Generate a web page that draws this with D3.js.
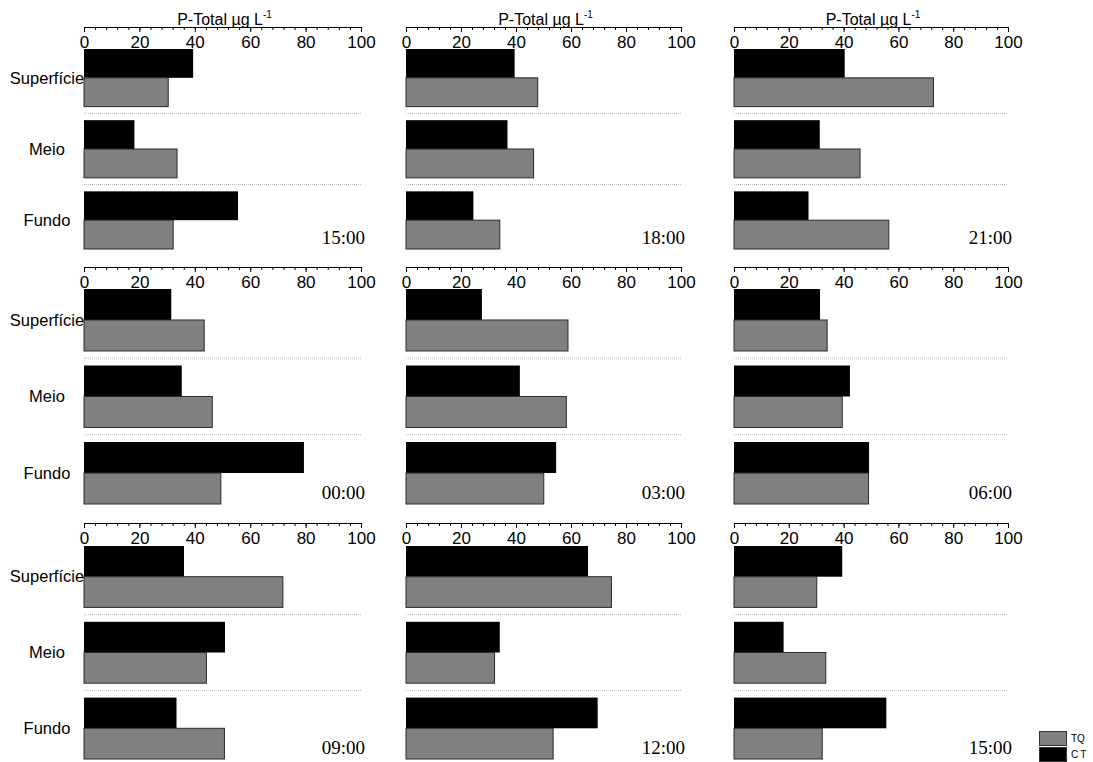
<!DOCTYPE html>
<html>
<head>
<meta charset="utf-8">
<script src="https://cdn.jsdelivr.net/npm/d3@7"></script>
<style>
  body { margin: 0; background: #fff; }
  svg { display: block; font-family: Arial, "Liberation Sans", sans-serif; }
</style>
</head>
<body>
<div id="chart"></div>
<script>
// data (P-Total, µg L-1)
var times = ["15:00", "18:00", "21:00", "00:00", "03:00", "06:00", "09:00", "12:00", "15:00"];
var depths = ["Superfície", "Meio", "Fundo"];
var series = ["TQ", "CT"];
var ctValues = [
  [39.4, 18.2, 55.6], [39.5, 36.9, 24.5], [40.4, 31.3, 27.2],
  [31.5, 35.3, 79.4], [27.6, 41.4, 54.6], [31.4, 42.3, 49.3],
  [36.1, 50.9, 33.4], [66.2, 34.1, 69.7], [39.5, 18.1, 55.6]
];
var tqValues = [
  [30.4, 33.6, 32.2], [47.9, 46.4, 34.1], [72.8, 46.0, 56.5],
  [43.4, 46.3, 49.4], [58.9, 58.3, 50.1], [34.0, 39.5, 49.1],
  [71.8, 44.2, 50.7], [74.7, 32.2, 53.5], [30.2, 33.5, 32.2]
];
var tickValues = [0, 20, 40, 60, 80, 100];

var width = 1093, height = 762;
// panel layout
var cols = [[84, 361], [406, 681], [734, 1008]];
var rows = [
  {axis: 27, top: 49, bottom: 249},
  {axis: 267, top: 289, bottom: 504},
  {axis: 523, top: 546, bottom: 759}
];
var colors = {TQ: "#808080", CT: "#000000"};
var sans = "Arial, 'Liberation Sans', sans-serif";
var serif = "'Liberation Serif', 'Times New Roman', serif";

var svg = d3.select("#chart").append("svg")
  .attr("width", width)
  .attr("height", height);

times.forEach(function(t, i) {
  var c = cols[i % 3], r = rows[Math.floor(i / 3)];

  var x = d3.scaleLinear().domain([0, 100]).range(c);
  var y = d3.scaleBand().domain(depths).range([r.top, r.bottom])
    .paddingInner(0.19).paddingOuter(0);
  var half = y.bandwidth() / 2;

  var g = svg.append("g");

  // dotted separators between depth groups
  depths.slice(1).forEach(function(d) {
    var yy = y(d) - y.step() * y.paddingInner() / 2;
    g.append("line")
      .attr("x1", c[0]).attr("x2", c[1])
      .attr("y1", yy).attr("y2", yy)
      .attr("stroke", "#b5b5b5")
      .attr("stroke-width", 1)
      .attr("stroke-dasharray", "1,1");
  });

  // CT bars (top half)
  g.selectAll(".ct")
    .data(depths)
    .enter().append("rect")
    .attr("class", "ct")
    .attr("x", x(0))
    .attr("y", function(d) { return y(d); })
    .attr("width", function(d, j) { return x(ctValues[i][j]) - x(0); })
    .attr("height", half)
    .attr("fill", colors.CT);

  // TQ bars (bottom half)
  g.selectAll(".tq")
    .data(depths)
    .enter().append("rect")
    .attr("class", "tq")
    .attr("x", x(0))
    .attr("y", function(d) { return y(d) + half; })
    .attr("width", function(d, j) { return x(tqValues[i][j]) - x(0); })
    .attr("height", half)
    .attr("fill", colors.TQ)
    .attr("stroke", "#2a2a2a")
    .attr("stroke-width", 1);

  // minor ticks
  var minor = g.append("g")
    .attr("transform", "translate(0," + r.axis + ")")
    .call(d3.axisBottom(x).tickValues(d3.range(0, 101, 4)).tickSize(3).tickFormat(""));
  minor.select(".domain").remove();

  // main axis
  var ax = g.append("g")
    .attr("transform", "translate(0," + r.axis + ")")
    .call(d3.axisBottom(x).tickValues(tickValues).tickSize(5).tickPadding(4).tickSizeOuter(0));
  ax.attr("font-family", sans);
  ax.selectAll("text")
    .attr("font-size", 17)
    .attr("fill", "#000");
  ax.select(".domain").attr("stroke", "#000");

  // title on the first row
  if (i < 3) {
    var title = g.append("text")
      .attr("x", (c[0] + c[1]) / 2 + 2)
      .attr("y", r.axis - 2)
      .attr("text-anchor", "middle")
      .attr("font-size", 16)
      .text("P-Total µg L");
    title.append("tspan")
      .attr("dy", -7)
      .attr("font-size", 10)
      .text("-1");
  }

  // depth labels on the first column
  if (i % 3 === 0) {
    g.selectAll(".dlab")
      .data(depths)
      .enter().append("text")
      .attr("class", "dlab")
      .attr("x", 47)
      .attr("y", function(d) { return y(d) + half; })
      .attr("dy", "0.35em")
      .attr("text-anchor", "middle")
      .attr("font-size", 16.5)
      .text(function(d) { return d; });
  }

  // time label
  g.append("text")
    .attr("x", c[1] + 4)
    .attr("y", r.bottom - 5)
    .attr("text-anchor", "end")
    .style("font-family", serif)
    .attr("font-size", 19)
    .text(t);
});

// legend
var legend = svg.append("g").attr("transform", "translate(1039,731)");
series.forEach(function(s, k) {
  legend.append("rect")
    .attr("x", 0.5)
    .attr("y", k * 16 + 0.5)
    .attr("width", 27)
    .attr("height", 14)
    .attr("fill", colors[s])
    .attr("stroke", "#333");
  legend.append("text")
    .attr("x", 32)
    .attr("y", k * 16 + 7)
    .attr("dy", "0.35em")
    .attr("font-size", 10)
    .attr("letter-spacing", s === "CT" ? 2 : 0)
    .text(s);
});
</script>
</body>
</html>
